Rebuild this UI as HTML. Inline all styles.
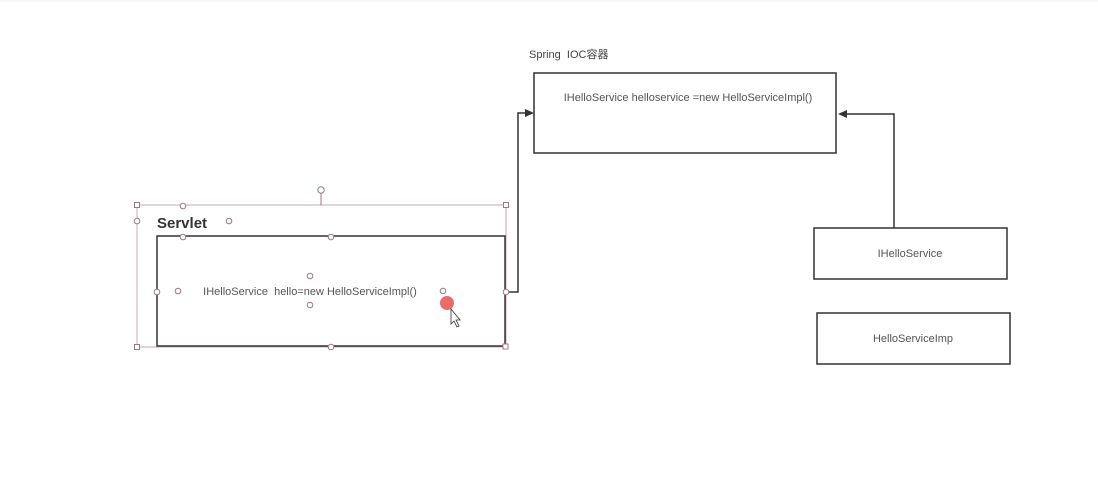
<!DOCTYPE html>
<html><head><meta charset="utf-8"><style>
html,body{margin:0;padding:0;background:#fff;width:1098px;height:479px;overflow:hidden}
text{font-family:"Liberation Sans","Noto Sans CJK SC",sans-serif;white-space:pre}
</style></head><body>
<svg width="1098" height="479" viewBox="0 0 1098 479" xmlns="http://www.w3.org/2000/svg">
<rect width="1098" height="479" fill="#fff"/>
<line x1="0" y1="1" x2="1098" y2="1" stroke="#f0f0f0"/>
<text x="529" y="58" font-size="11" fill="#444" xml:space="preserve">Spring  IOC容器</text>
<rect x="534" y="73" width="302" height="80" fill="#fff" stroke="#333" stroke-width="1.5"/>
<text x="688" y="101" font-size="11" fill="#555" text-anchor="middle">IHelloService helloservice =new HelloServiceImpl()</text>
<rect x="814" y="228" width="193" height="51" fill="#fff" stroke="#333" stroke-width="1.5"/>
<text x="910" y="257" font-size="11" fill="#555" text-anchor="middle">IHelloService</text>
<rect x="817" y="313" width="193" height="51" fill="#fff" stroke="#333" stroke-width="1.5"/>
<text x="913" y="342" font-size="11" fill="#555" text-anchor="middle">HelloServiceImp</text>
<polyline points="894,228 894,114 846,114" fill="none" stroke="#333" stroke-width="1.5"/>
<polygon points="838,114 847,110 847,118" fill="#333"/>
<polyline points="506,292 518,292 518,113 526,113" fill="none" stroke="#333" stroke-width="1.5"/>
<polygon points="534,113 525,109 525,117" fill="#333"/>
<rect x="137" y="205" width="369" height="142" fill="none" stroke="#c9a9ae" stroke-width="1"/>
<line x1="321" y1="193" x2="321" y2="205" stroke="#a07880"/>
<text x="157" y="228" font-size="15" font-weight="bold" fill="#333">Servlet</text>
<rect x="157" y="236" width="348" height="110" fill="none" stroke="#333" stroke-width="1.5"/>
<text x="310" y="295" font-size="11" fill="#555" text-anchor="middle" xml:space="preserve">IHelloService  hello=new HelloServiceImpl()</text>
<g fill="#fff" stroke="#a07880" stroke-width="1">
<circle cx="321" cy="190" r="3.2"/>
<circle cx="183" cy="206" r="2.8"/><circle cx="137" cy="221" r="2.8"/><circle cx="229" cy="221" r="2.8"/>
<circle cx="183" cy="237" r="2.8"/><circle cx="331" cy="237" r="2.8"/>
<circle cx="157" cy="292" r="2.8"/><circle cx="178" cy="291" r="2.8"/><circle cx="310" cy="276" r="2.8"/>
<circle cx="310" cy="305" r="2.8"/><circle cx="443" cy="291" r="2.8"/><circle cx="506" cy="292" r="2.8"/>
<circle cx="331" cy="347" r="2.8"/>
<rect x="134.5" y="202.5" width="5" height="5"/><rect x="503.5" y="202.5" width="5" height="5"/>
<rect x="134.5" y="344.5" width="5" height="5"/><rect x="503" y="344" width="5" height="5"/>
</g>
<circle cx="447" cy="303" r="7" fill="#e85050" opacity="0.85"/>
<path d="M451 309 L451 324 L454 321 L457 327 L459 326 L456 320 L460 320 Z" fill="#fff" stroke="#333" stroke-width="0.8"/>
</svg>
</body></html>
